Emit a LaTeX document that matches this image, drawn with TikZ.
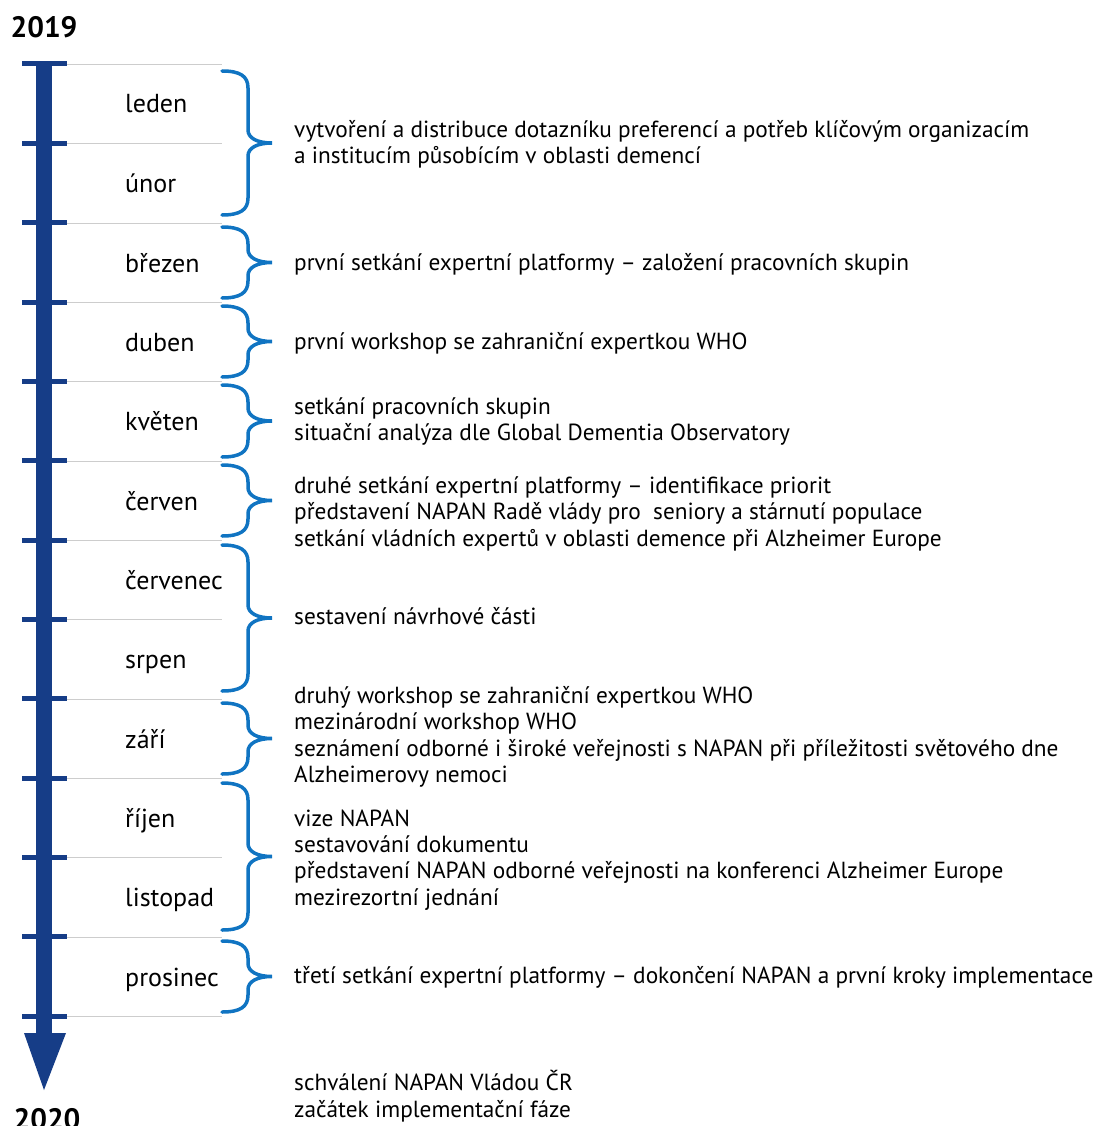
\documentclass[tikz,border=0pt]{standalone}
\usepackage{fontspec}
\setmainfont{PT Sans}
\definecolor{osa}{RGB}{22,61,135}
\definecolor{modra}{RGB}{16,116,194}
\definecolor{linka}{RGB}{205,205,205}
\tikzset{
  mesic/.style={anchor=base west,inner sep=0pt,font=\fontsize{26}{28}\selectfont},
  akce/.style={anchor=base west,inner sep=0pt,align=left,font=\fontsize{23.3}{26.4}\selectfont},
  rok/.style={inner sep=0pt,font=\fontsize{29.5}{31}\selectfont\bfseries},
  carka/.style={osa,line width=5pt},
  oblouk/.style={modra,line width=3.5pt,line cap=round}
}
\newcommand{\zavorka}[2]{%
  \pgfmathsetmacro\zm{(#1+#2)/2}%
  \draw[oblouk] (222,#1) .. controls (240,#1) and (248,{#1+5}) .. (248,{#1+17})
    -- (248,{\zm-13}) .. controls (248,{\zm-5}) and (257,\zm) .. (272,\zm)
    .. controls (257,\zm) and (248,{\zm+5}) .. (248,{\zm+13})
    -- (248,{#2-17}) .. controls (248,{#2-5}) and (240,#2) .. (222,#2);}
\begin{document}
\begin{tikzpicture}[x=1pt,y=-1pt]
\useasboundingbox (0,0) rectangle (1096,1126);
\fill[osa] (36,64) rectangle (52,1034);
\fill[osa] (24,1033) -- (66,1033) -- (44,1090) -- cycle;
\draw[carka] (22,64) -- (67,64);
\draw[carka] (22,143.3) -- (67,143.3);
\draw[carka] (22,222.7) -- (67,222.7);
\draw[carka] (22,302) -- (67,302);
\draw[carka] (22,381.3) -- (67,381.3);
\draw[carka] (22,460.7) -- (67,460.7);
\draw[carka] (22,540) -- (67,540);
\draw[carka] (22,619.3) -- (67,619.3);
\draw[carka] (22,698.7) -- (67,698.7);
\draw[carka] (22,778) -- (67,778);
\draw[carka] (22,857.3) -- (67,857.3);
\draw[carka] (22,936.7) -- (67,936.7);
\draw[carka] (22,1016) -- (67,1016);
\draw[linka] (67,64) -- (222,64) (67,143.3) -- (222,143.3) (67,222.7) -- (222,222.7)
  (67,302) -- (222,302) (67,381.3) -- (222,381.3) (67,460.7) -- (222,460.7)
  (67,540) -- (222,540) (67,619.3) -- (222,619.3) (67,698.7) -- (222,698.7)
  (67,778) -- (222,778) (67,857.3) -- (222,857.3) (67,936.7) -- (222,936.7)
  (67,1016) -- (222,1016);
\node[rok] (r2019) at (44,27) {2019};
\node[rok,anchor=base] (r2020) at (47,1129) {2020};
\node[mesic] (leden)    at (125,113) {leden};
\node[mesic] (unor)     at (125,192.5) {únor};
\node[mesic] (brezen)   at (125,272) {březen};
\node[mesic] (duben)    at (125,351) {duben};
\node[mesic] (kveten)   at (125,430.5) {květen};
\node[mesic] (cerven)   at (125,510) {červen};
\node[mesic] (cervenec) at (125,589) {červenec};
\node[mesic] (srpen)    at (125,668.5) {srpen};
\node[mesic] (zari)     at (125,748) {září};
\node[mesic] (rijen)    at (125,827) {říjen};
\node[mesic] (listopad) at (125,906.5) {listopad};
\node[mesic] (prosinec) at (125,986) {prosinec};
\zavorka{71}{215}
\zavorka{227}{298}
\zavorka{306}{377}
\zavorka{385}{457}
\zavorka{465}{536}
\zavorka{545}{691}
\zavorka{703}{774}
\zavorka{783}{930}
\zavorka{941}{1012}
\node[akce] (akce1) at (294,164) {vytvoření a distribuce dotazníku preferencí a potřeb klíčovým organizacím\\a institucím působícím v oblasti demencí};
\node[akce] (akce2) at (294,270) {první setkání expertní platformy – založení pracovních skupin};
\node[akce] (akce3) at (294,349) {první workshop se zahraniční expertkou WHO};
\node[akce] (akce4) at (294,440.6) {setkání pracovních skupin\\situační analýza dle Global Dementia Observatory};
\node[akce] (akce5) at (294,546) {druhé setkání expertní platformy – identifikace priorit\\představení NAPAN Radě vlády pro\ \ seniory a stárnutí populace\\setkání vládních expertů v oblasti demence při Alzheimer Europe};
\node[akce] (akce6) at (294,624) {sestavení návrhové části};
\node[akce] (akce7) at (294,782.5) {druhý workshop se zahraniční expertkou WHO\\mezinárodní workshop WHO\\seznámení odborné i široké veřejnosti s NAPAN při příležitosti světového dne\\Alzheimerovy nemoci};
\node[akce] (akce8) at (294,905.2) {vize NAPAN\\sestavování dokumentu\\představení NAPAN odborné veřejnosti na konferenci Alzheimer Europe\\mezirezortní jednání};
\node[akce] (akce9) at (294,983) {třetí setkání expertní platformy – dokončení NAPAN a první kroky implementace};
\node[akce] (akce10) at (294,1117) {schválení NAPAN Vládou ČR\\začátek implementační fáze};
\end{tikzpicture}
\end{document}
